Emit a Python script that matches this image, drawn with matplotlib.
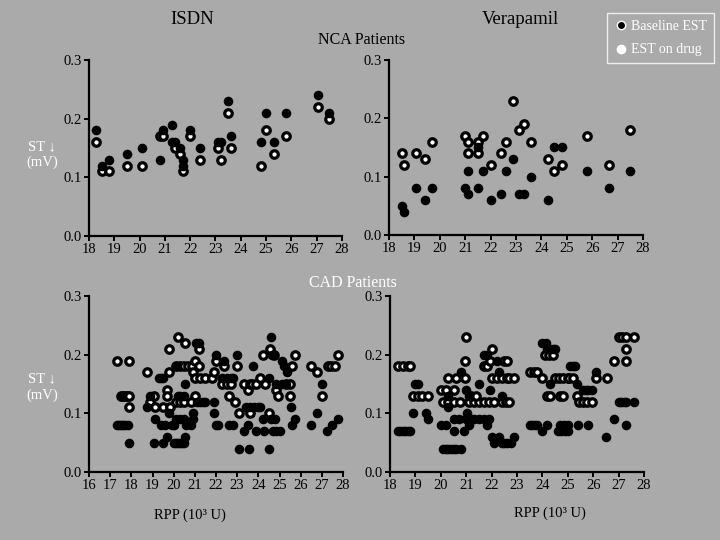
import numpy as np
import matplotlib
matplotlib.use('Agg')
import matplotlib.pyplot as plt
from matplotlib.lines import Line2D

plt.rcParams['font.family'] = ['Liberation Serif', 'DejaVu Serif']
bg = '#aaaaaa'

# ISDN, NCA patients
isdn_nca_base_x = [18.28, 18.5, 18.8, 19.5, 20.1, 20.8, 20.93, 21.3, 21.3, 21.4, 21.6, 21.7, 21.7, 22.0, 22.4,
                   23.1, 23.2, 23.5, 23.6, 24.8, 25.0, 25.3, 25.8, 27.05, 27.5]
isdn_nca_base_y = [0.18, 0.12, 0.13, 0.14, 0.15, 0.13, 0.18, 0.19, 0.16, 0.16, 0.15, 0.13, 0.12, 0.18, 0.15,
                   0.16, 0.16, 0.23, 0.17, 0.16, 0.21, 0.16, 0.21, 0.24, 0.21]
isdn_nca_drug_x = [18.28, 18.5, 18.8, 19.5, 20.1, 20.8, 20.93, 21.4, 21.6, 21.7, 22.0, 22.4, 23.1, 23.2, 23.5,
                   23.6, 24.8, 25.0, 25.3, 25.8, 27.05, 27.5]
isdn_nca_drug_y = [0.16, 0.11, 0.11, 0.12, 0.12, 0.17, 0.17, 0.15, 0.14, 0.11, 0.17, 0.13, 0.15, 0.13, 0.21,
                   0.15, 0.12, 0.18, 0.14, 0.17, 0.22, 0.20]

# Verapamil, NCA patients
vera_nca_base_x = [18.5, 18.6, 19.05, 19.4, 19.7, 21.0, 21.1, 21.1, 21.5, 21.5, 21.7, 22.0, 22.4, 22.6, 22.9,
                   23.1, 23.3, 23.6, 24.25, 24.5, 24.8, 25.8, 26.65, 27.5]
vera_nca_base_y = [0.05, 0.04, 0.08, 0.06, 0.08, 0.08, 0.11, 0.07, 0.08, 0.15, 0.11, 0.06, 0.07, 0.11, 0.13,
                   0.07, 0.07, 0.10, 0.06, 0.15, 0.15, 0.11, 0.08, 0.11]
vera_nca_drug_x = [18.5, 18.6, 19.05, 19.4, 19.7, 21.0, 21.1, 21.1, 21.5, 21.5, 21.7, 22.0, 22.4, 22.6, 22.9,
                   23.1, 23.3, 23.6, 24.25, 24.5, 24.8, 25.8, 26.65, 27.5]
vera_nca_drug_y = [0.14, 0.12, 0.14, 0.13, 0.16, 0.17, 0.16, 0.14, 0.16, 0.14, 0.17, 0.12, 0.14, 0.16, 0.23,
                   0.18, 0.19, 0.16, 0.13, 0.11, 0.12, 0.17, 0.12, 0.18]

# ISDN, CAD patients
isdn_cad_base_x = [17.3, 17.4, 17.5, 17.6, 17.7, 17.85, 17.9, 18.75, 18.9, 19.1, 19.05, 19.3, 19.4, 19.5, 19.5,
                   19.8, 19.7, 20.0, 20.1, 20.2, 20.3, 20.4, 20.5, 20.1, 20.2, 20.3, 20.5, 20.1, 20.3, 20.5,
                   19.4, 19.6, 19.9, 20.0, 20.6, 20.55, 20.55, 20.9, 20.9, 20.8, 21.05, 21.2, 21.1, 21.25, 21.4,
                   21.5, 21.9, 21.9, 22.0, 22.0, 22.1, 22.4, 22.3, 22.5, 22.7, 22.8, 22.6, 22.8, 23.0, 23.1,
                   23.55, 23.3, 23.5, 23.4, 23.6, 23.8, 24.0, 24.1, 23.75, 23.9, 24.2, 24.25, 24.5, 24.6, 24.5,
                   24.65, 24.6, 24.8, 24.7, 24.85, 25.0, 24.85, 25.1, 25.2, 25.35, 25.1, 25.3, 25.55, 25.6, 25.75,
                   26.5, 26.75, 27.0, 27.25, 27.5, 27.75]
isdn_cad_base_y = [0.08, 0.08, 0.08, 0.08, 0.08, 0.08, 0.05, 0.11, 0.13, 0.09, 0.05, 0.16, 0.16, 0.16, 0.05,
                   0.10, 0.06, 0.05, 0.05, 0.05, 0.05, 0.05, 0.05, 0.18, 0.13, 0.13, 0.13, 0.09, 0.09, 0.09,
                   0.08, 0.08, 0.08, 0.08, 0.08, 0.15, 0.06, 0.10, 0.09, 0.08, 0.22, 0.22, 0.12, 0.12, 0.12,
                   0.12, 0.12, 0.10, 0.20, 0.08, 0.08, 0.19, 0.16, 0.16, 0.16, 0.16, 0.08, 0.08, 0.20, 0.04,
                   0.04, 0.07, 0.08, 0.11, 0.11, 0.11, 0.11, 0.11, 0.18, 0.07, 0.09, 0.07, 0.16, 0.23, 0.04,
                   0.20, 0.09, 0.09, 0.07, 0.07, 0.07, 0.15, 0.19, 0.18, 0.17, 0.15, 0.15, 0.11, 0.08, 0.09,
                   0.08, 0.10, 0.15, 0.07, 0.08, 0.09]
isdn_cad_drug_x = [17.3, 17.9, 17.5, 17.6, 17.7, 17.8, 17.9, 17.9, 18.75, 18.9, 19.05, 19.1, 19.5, 19.7, 19.7,
                   19.8, 19.8, 19.85, 20.2, 20.1, 20.3, 20.5, 20.7, 20.1, 20.3, 20.5, 20.55, 20.85, 20.9, 21.0,
                   21.0, 20.8, 21.2, 21.2, 21.0, 21.25, 21.5, 21.8, 21.9, 22.0, 22.4, 22.3, 22.5, 22.7, 22.6,
                   22.9, 23.0, 23.1, 23.3, 23.5, 23.6, 23.7, 23.9, 23.6, 24.2, 24.1, 24.3, 24.55, 24.5, 24.75,
                   24.85, 24.95, 25.3, 25.5, 25.5, 25.6, 25.75, 26.5, 26.75, 27.0, 27.3, 27.45, 27.6, 27.75]
isdn_cad_drug_y = [0.19, 0.19, 0.13, 0.13, 0.13, 0.13, 0.13, 0.11, 0.17, 0.12, 0.13, 0.11, 0.11, 0.14, 0.13,
                   0.21, 0.17, 0.11, 0.23, 0.18, 0.18, 0.18, 0.18, 0.12, 0.12, 0.12, 0.22, 0.18, 0.17, 0.19,
                   0.13, 0.12, 0.21, 0.18, 0.16, 0.16, 0.16, 0.16, 0.17, 0.19, 0.18, 0.15, 0.15, 0.15, 0.13,
                   0.12, 0.18, 0.10, 0.15, 0.14, 0.15, 0.15, 0.15, 0.10, 0.20, 0.16, 0.15, 0.21, 0.10, 0.20,
                   0.14, 0.13, 0.15, 0.15, 0.13, 0.18, 0.20, 0.18, 0.17, 0.13, 0.18, 0.18, 0.18, 0.20]

# Verapamil, CAD patients
vera_cad_base_x = [18.3, 18.4, 18.5, 18.6, 18.7, 18.8, 19.0, 19.1, 18.9, 19.4, 19.5, 20.0, 20.2, 20.3, 20.3,
                   20.1, 20.2, 20.3, 20.4, 20.5, 20.6, 20.8, 20.5, 20.5, 20.7, 20.8, 20.9, 21.0, 21.05, 21.1,
                   21.0, 21.1, 21.2, 21.3, 21.5, 21.7, 21.9, 21.1, 21.5, 21.7, 21.8, 21.95, 21.8, 22.0, 22.1,
                   22.2, 22.3, 22.4, 22.3, 22.4, 22.5, 22.6, 22.75, 22.9, 23.5, 23.6, 23.7, 23.8, 24.0, 24.0,
                   24.15, 24.2, 24.3, 24.4, 24.5, 24.2, 24.3, 24.7, 24.85, 25.0, 24.6, 24.75, 24.9, 25.0, 25.1,
                   25.2, 25.3, 25.35, 25.4, 25.6, 25.7, 25.8, 25.95, 25.8, 26.1, 26.5, 26.8, 27.0, 27.1, 27.2,
                   27.3, 27.3, 27.6]
vera_cad_base_y = [0.07, 0.07, 0.07, 0.07, 0.07, 0.07, 0.15, 0.15, 0.10, 0.10, 0.09, 0.08, 0.08, 0.13, 0.11,
                   0.04, 0.04, 0.04, 0.04, 0.04, 0.04, 0.04, 0.09, 0.07, 0.09, 0.17, 0.07, 0.14, 0.10, 0.13,
                   0.09, 0.09, 0.09, 0.09, 0.09, 0.09, 0.09, 0.08, 0.15, 0.20, 0.20, 0.14, 0.08, 0.06, 0.05,
                   0.19, 0.17, 0.13, 0.06, 0.05, 0.05, 0.05, 0.05, 0.06, 0.08, 0.08, 0.08, 0.08, 0.07, 0.22,
                   0.22, 0.21, 0.21, 0.21, 0.21, 0.08, 0.15, 0.08, 0.08, 0.08, 0.07, 0.07, 0.07, 0.07, 0.18,
                   0.18, 0.18, 0.15, 0.08, 0.14, 0.14, 0.14, 0.14, 0.08, 0.17, 0.06, 0.09, 0.12, 0.12, 0.12,
                   0.12, 0.08, 0.12]
vera_cad_drug_x = [18.3, 18.5, 18.7, 18.8, 18.9, 19.1, 19.25, 19.5, 20.0, 20.2, 20.3, 20.1, 20.3, 20.5, 20.75,
                   20.5, 20.6, 20.95, 20.95, 21.0, 21.1, 21.3, 21.5, 21.7, 21.9, 21.2, 21.4, 21.7, 21.8, 21.95,
                   22.0, 22.0, 22.1, 22.2, 22.4, 22.6, 22.7, 22.4, 22.55, 22.7, 22.5, 22.6, 22.9, 23.5, 23.65,
                   23.8, 24.0, 24.1, 24.25, 24.4, 24.2, 24.3, 24.5, 24.65, 24.8, 25.0, 24.7, 24.8, 25.05, 25.2,
                   25.35, 25.45, 25.6, 25.75, 25.95, 26.1, 26.55, 26.8, 27.0, 27.15, 27.3, 27.3, 27.3, 27.6]
vera_cad_drug_y = [0.18, 0.18, 0.18, 0.18, 0.13, 0.13, 0.13, 0.13, 0.14, 0.14, 0.16, 0.12, 0.12, 0.12, 0.12,
                   0.14, 0.16, 0.19, 0.16, 0.23, 0.12, 0.12, 0.12, 0.12, 0.12, 0.13, 0.13, 0.18, 0.18, 0.19,
                   0.21, 0.16, 0.12, 0.16, 0.16, 0.16, 0.16, 0.12, 0.12, 0.12, 0.19, 0.19, 0.16, 0.17, 0.17,
                   0.17, 0.16, 0.20, 0.20, 0.20, 0.13, 0.13, 0.16, 0.16, 0.16, 0.16, 0.13, 0.13, 0.16, 0.16,
                   0.13, 0.12, 0.12, 0.12, 0.12, 0.16, 0.16, 0.19, 0.23, 0.23, 0.23, 0.21, 0.19, 0.23]

fig = plt.figure(figsize=(7.2, 5.4), dpi=100)
fig.patch.set_facecolor(bg)

def make_axes(rect, xmin, base_x, base_y, drug_x, drug_y):
    ax = fig.add_axes(rect)
    ax.set_facecolor(bg)
    ax.plot(drug_x, drug_y, 'o', ms=5.4, mfc='white', mec='black', mew=2.3, ls='none')
    ax.plot(base_x, base_y, 'o', ms=5.9, mfc='black', mec='black', ls='none')
    ax.set_xlim(xmin, 28)
    ax.set_ylim(0, 0.3)
    ax.set_xticks(range(xmin, 29))
    ax.set_yticks([0.0, 0.1, 0.2, 0.3])
    ax.set_yticklabels(['0.0', '0.1', '0.2', '0.3'])
    for s in ['top', 'right']:
        ax.spines[s].set_visible(False)
    for s in ['left', 'bottom']:
        ax.spines[s].set_linewidth(1.6)
        ax.spines[s].set_color('black')
    ax.tick_params(length=3.5, width=1.4, labelsize=10.5, colors='black', pad=1.5)
    return ax

W, H = 720.0, 540.0
def rect(l, r, top, bot):
    return [l / W, 1 - bot / H, (r - l) / W, (bot - top) / H]

make_axes(rect(89, 342, 60, 236), 18, isdn_nca_base_x, isdn_nca_base_y, isdn_nca_drug_x, isdn_nca_drug_y)
make_axes(rect(389, 643, 60, 235), 18, vera_nca_base_x, vera_nca_base_y, vera_nca_drug_x, vera_nca_drug_y)
make_axes(rect(89, 343, 296, 472), 16, isdn_cad_base_x, isdn_cad_base_y, isdn_cad_drug_x, isdn_cad_drug_y)
make_axes(rect(390, 644, 296, 472), 18, vera_cad_base_x, vera_cad_base_y, vera_cad_drug_x, vera_cad_drug_y)

def ftext(x, y, s, **kw):
    fig.text(x / W, 1 - y / H, s, ha='center', va='center', **kw)

ftext(192, 20, 'ISDN', fontsize=13.5, color='black')
ftext(520, 20, 'Verapamil', fontsize=13.5, color='black')
ftext(362, 40, 'NCA Patients', fontsize=11.5, color='black')
ftext(353, 283, 'CAD Patients', fontsize=11.5, color='white')
ftext(42, 147, 'ST \u2193', fontsize=10.5, color='white')
ftext(42, 162, '(mV)', fontsize=10.5, color='white')
ftext(42, 379, 'ST \u2193', fontsize=10.5, color='white')
ftext(42, 395, '(mV)', fontsize=10.5, color='white')
ftext(190, 515, 'RPP (10\u00b3 U)', fontsize=10.5, color='black')
ftext(550, 513, 'RPP (10\u00b3 U)', fontsize=10.5, color='black')

handles = [Line2D([], [], marker='o', ls='none', ms=6, mfc='black', mec='white', mew=1.0),
           Line2D([], [], marker='o', ls='none', ms=6, mfc='white', mec='white')]
leg = fig.legend(handles, ['Baseline EST', 'EST on drug'], loc='upper right',
                 bbox_to_anchor=(714 / W, 1 - 13 / H), frameon=True, fancybox=False,
                 fontsize=10, labelcolor='white', handletextpad=0.2, handlelength=1.0,
                 borderpad=0.5, labelspacing=0.75, borderaxespad=0)
leg.get_frame().set_facecolor(bg)
leg.get_frame().set_edgecolor('white')
leg.get_frame().set_linewidth(1.0)

fig.savefig('out.png', dpi=100, facecolor=bg)
